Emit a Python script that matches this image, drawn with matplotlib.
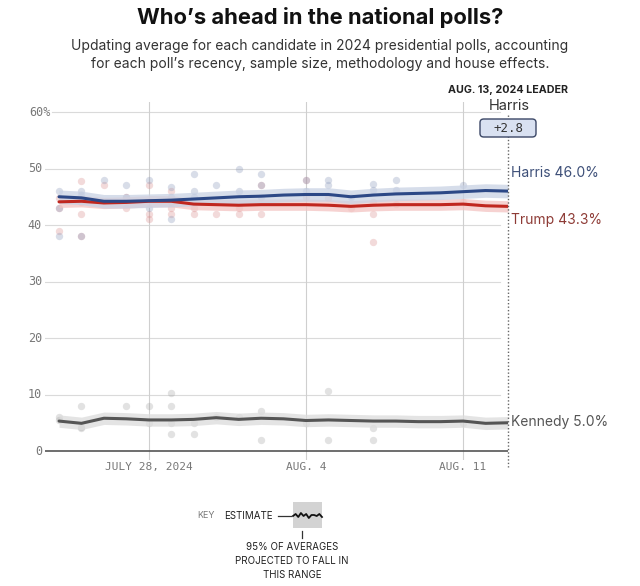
import matplotlib
matplotlib.use("Agg")
import matplotlib.pyplot as plt
import matplotlib.dates as mdates
from matplotlib.patches import FancyBboxPatch, Rectangle
from matplotlib.lines import Line2D
import numpy as np

plt.rcParams['font.family'] = ['Inter', 'DejaVu Sans']

# --- data ---
days = np.arange(np.datetime64('2024-07-24'), np.datetime64('2024-08-14'))

harris_avg = [45.0, 44.8, 44.2, 44.2, 44.3, 44.4, 44.6, 44.8, 45.0, 45.1, 45.3,
              45.4, 45.4, 45.0, 45.3, 45.5, 45.6, 45.7, 45.9, 46.1, 46.0]
trump_avg = [44.1, 44.2, 43.9, 44.0, 44.2, 44.2, 43.7, 43.6, 43.5, 43.6, 43.6,
             43.6, 43.5, 43.3, 43.5, 43.6, 43.6, 43.6, 43.7, 43.4, 43.3]
kennedy_avg = [5.3, 4.9, 5.8, 5.7, 5.5, 5.5, 5.6, 5.9, 5.6, 5.8, 5.7,
               5.4, 5.5, 5.4, 5.3, 5.3, 5.2, 5.2, 5.3, 4.9, 5.0]
band_half = {'Harris': 1.2, 'Trump': 1.0, 'Kennedy': 1.1}

harris_poll_dates = ['2024-07-24'] * 3 + ['2024-07-25'] * 3 + ['2024-07-26'] + ['2024-07-27'] * 2 + \
    ['2024-07-28'] * 2 + ['2024-07-29'] * 3 + ['2024-07-30'] * 3 + ['2024-07-31'] + ['2024-08-01'] * 2 + \
    ['2024-08-02'] * 3 + ['2024-08-04'] * 2 + ['2024-08-05'] * 2 + ['2024-08-06'] + ['2024-08-07'] * 2 + \
    ['2024-08-08'] * 2 + ['2024-08-11']
harris_polls = [46, 43, 38, 46, 45.3, 38, 48, 47, 45, 48, 43, 46.7, 45, 41, 49, 46, 45, 47,
                50, 46, 49, 47, 45, 48, 46, 48, 47, 45, 47.3, 46.2, 48, 46.2, 47]

trump_poll_dates = ['2024-07-24'] * 3 + ['2024-07-25'] * 4 + ['2024-07-26'] + ['2024-07-27'] * 2 + \
    ['2024-07-28'] * 3 + ['2024-07-29'] * 4 + ['2024-07-30'] * 2 + ['2024-07-31'] + ['2024-08-01'] * 2 + \
    ['2024-08-02'] * 2 + ['2024-08-04'] * 2 + ['2024-08-05'] + ['2024-08-06'] + ['2024-08-07'] * 3 + \
    ['2024-08-08'] + ['2024-08-11']
trump_polls = [44.7, 43, 39, 47.7, 44, 42, 38, 47, 45, 43, 47, 42, 41, 46, 44, 43, 42, 43, 42,
               42, 43, 42, 47, 42, 48, 45, 44.8, 43, 44, 42, 37, 43.8, 44]

kennedy_poll_dates = ['2024-07-24'] * 2 + ['2024-07-25'] * 3 + ['2024-07-27'] + ['2024-07-28'] * 2 + \
    ['2024-07-29'] * 4 + ['2024-07-30'] * 2 + ['2024-07-31'] + ['2024-08-01'] + ['2024-08-02'] * 2 + \
    ['2024-08-04'] + ['2024-08-05'] * 2 + ['2024-08-07'] * 2 + ['2024-08-11']
kennedy_polls = [6, 5.5, 8, 4.3, 4, 8, 8, 5, 10.3, 8, 5, 3.1, 5, 3, 6.1, 6.1, 7.1, 2,
                 5, 10.6, 2, 4.1, 2, 4.9]

y_ticks = [0, 10, 20, 30, 40, 50, 60]
x_ticks = ['2024-07-28', '2024-08-04', '2024-08-11']
x_tick_labels = ['JULY 28, 2024', 'AUG. 4', 'AUG. 11']
leader_date = 'AUG. 13, 2024 LEADER'
leader_name = 'Harris'
leader_margin = '+2.8'

# --- figure ---
W, H = 640, 586
fig = plt.figure(figsize=(W / 100, H / 100), dpi=100)
ax = fig.add_axes([45 / W, 1 - 460 / H, (508 - 45) / W, (460 - 102) / H])

x = mdates.date2num(days)
ax.set_xlim(x[0] - 0.625, x[-1])
ax.set_ylim(-1.59, 61.77)
for s in ax.spines.values():
    s.set_visible(False)
ax.set_xticks([])
ax.set_yticks([])

# grid
for v in y_ticks[1:]:
    ax.axhline(v, xmin=(7 / 463 if v == 60 else 0), xmax=455 / 463, color='#dadada', lw=0.8, zorder=0)
ax.axhline(0, color='#555555', lw=1.2, zorder=1)
for d in x_ticks:
    ax.axvline(mdates.date2num(np.datetime64(d)), color='#cfcfcf', lw=0.8, zorder=0)

ytr = ax.get_yaxis_transform()
for v in y_ticks:
    lab = f'{v}%' if v == 60 else str(v)
    ax.text(-16 / 463 if v == 60 else -3 / 463, v, lab, transform=ytr, ha=('left' if v == 60 else 'right'),
            va='center', family='DejaVu Sans Mono', fontsize=8.5, color='#777777')
xtr = ax.get_xaxis_transform()
for d, lab in zip(x_ticks, x_tick_labels):
    ax.text(mdates.date2num(np.datetime64(d)), -0.02, lab, transform=xtr, ha='center', va='center',
            family='DejaVu Sans Mono', fontsize=8, color='#777777')

# polls
ax.scatter(mdates.date2num(np.array(kennedy_poll_dates, dtype='datetime64[D]')), kennedy_polls,
           s=28, color='#a0a0a0', alpha=0.3, lw=0, zorder=2)
ax.scatter(mdates.date2num(np.array(trump_poll_dates, dtype='datetime64[D]')), trump_polls,
           s=28, color='#d98c8c', alpha=0.32, lw=0, zorder=2)
ax.scatter(mdates.date2num(np.array(harris_poll_dates, dtype='datetime64[D]')), harris_polls,
           s=28, color='#8896b8', alpha=0.32, lw=0, zorder=2)

# bands and averages
series = [('Kennedy', kennedy_avg, '#dcdcdc', '#555555'),
          ('Trump', trump_avg, '#f3c4c2', '#c0271f'),
          ('Harris', harris_avg, '#c9d2e4', '#2c4886')]
for name, avg, band_c, line_c in series:
    a = np.array(avg)
    h = band_half[name]
    ax.fill_between(x, a - h, a + h, color=band_c, alpha=0.75, lw=0, zorder=3)
for name, avg, band_c, line_c in series:
    ax.plot(x, avg, color=line_c, lw=2.2, zorder=4, solid_capstyle='round')

# end labels
lx = x[-1] + 0.12
ax.text(lx, 49.2, f'Harris {harris_avg[-1]:.1f}%', color='#3d4f78', fontsize=10, va='center', clip_on=False)
ax.text(lx, 40.8, f'Trump {trump_avg[-1]:.1f}%', color='#8e3b36', fontsize=10, va='center', clip_on=False)
ax.text(lx, 5.1, f'Kennedy {kennedy_avg[-1]:.1f}%', color='#555555', fontsize=10, va='center', clip_on=False)

# leader annotation
fig.add_artist(Line2D([508 / W, 508 / W], [1 - 115 / H, 1 - 467 / H], transform=fig.transFigure,
                      color='#666666', lw=1, ls=(0, (1, 1.5)), zorder=5))
fig.text(508 / W, 1 - 90 / H, leader_date, ha='center', va='center', fontsize=7.7, fontweight='bold', color='#222222')
fig.text(509 / W, 1 - 106 / H, leader_name, ha='center', va='center', fontsize=10.5, color='#333333')
fig.add_artist(FancyBboxPatch((480 / W, 1 - 137 / H), 56 / W, 18 / H, transform=fig.transFigure,
                              boxstyle='round,pad=0,rounding_size=0.006', fc='#d9e1f1', ec='#3b4766', lw=1, zorder=6))
fig.text(508 / W, 1 - 128 / H, leader_margin, ha='center', va='center', family='DejaVu Sans Mono',
         fontsize=9, color='#333333', zorder=7)

# title / subtitle
fig.text(0.5, 1 - 18 / H, 'Who\u2019s ahead in the national polls?', ha='center', va='center',
         fontsize=15.8, fontweight='bold', color='#111111')
fig.text(0.5, 1 - 55 / H, 'Updating average for each candidate in 2024 presidential polls, accounting\n'
         'for each poll\u2019s recency, sample size, methodology and house effects.',
         ha='center', va='center', fontsize=10, color='#333333', linespacing=1.45)

# key
fig.text(197 / W, 1 - 516 / H, 'KEY', ha='left', va='center', fontsize=6.5, color='#777777')
fig.text(224 / W, 1 - 516 / H, 'ESTIMATE', ha='left', va='center', fontsize=7, color='#222222')
fig.add_artist(Line2D([278 / W, 291 / W], [1 - 516 / H] * 2, transform=fig.transFigure, color='#333333', lw=0.9))
fig.add_artist(Rectangle((293 / W, 1 - 528 / H), 29 / W, 26 / H, transform=fig.transFigure,
                         fc='#d3d3d3', ec='none'))
key_wiggle = [516, 514, 517, 513, 516, 514, 518, 515, 515, 516, 514, 517]
kx = np.linspace(293, 322, len(key_wiggle)) / W
fig.add_artist(Line2D(kx, [1 - v / H for v in key_wiggle], transform=fig.transFigure, color='#111111', lw=1.3))
fig.add_artist(Line2D([302 / W, 302 / W], [1 - 531 / H, 1 - 538 / H], transform=fig.transFigure,
                      color='#333333', lw=0.9))
fig.text(292 / W, 1 - 561 / H, '95% OF AVERAGES\nPROJECTED TO FALL IN\nTHIS RANGE', ha='center', va='center',
         fontsize=7, color='#222222', linespacing=1.5)

fig.savefig('out.png', dpi=100)
